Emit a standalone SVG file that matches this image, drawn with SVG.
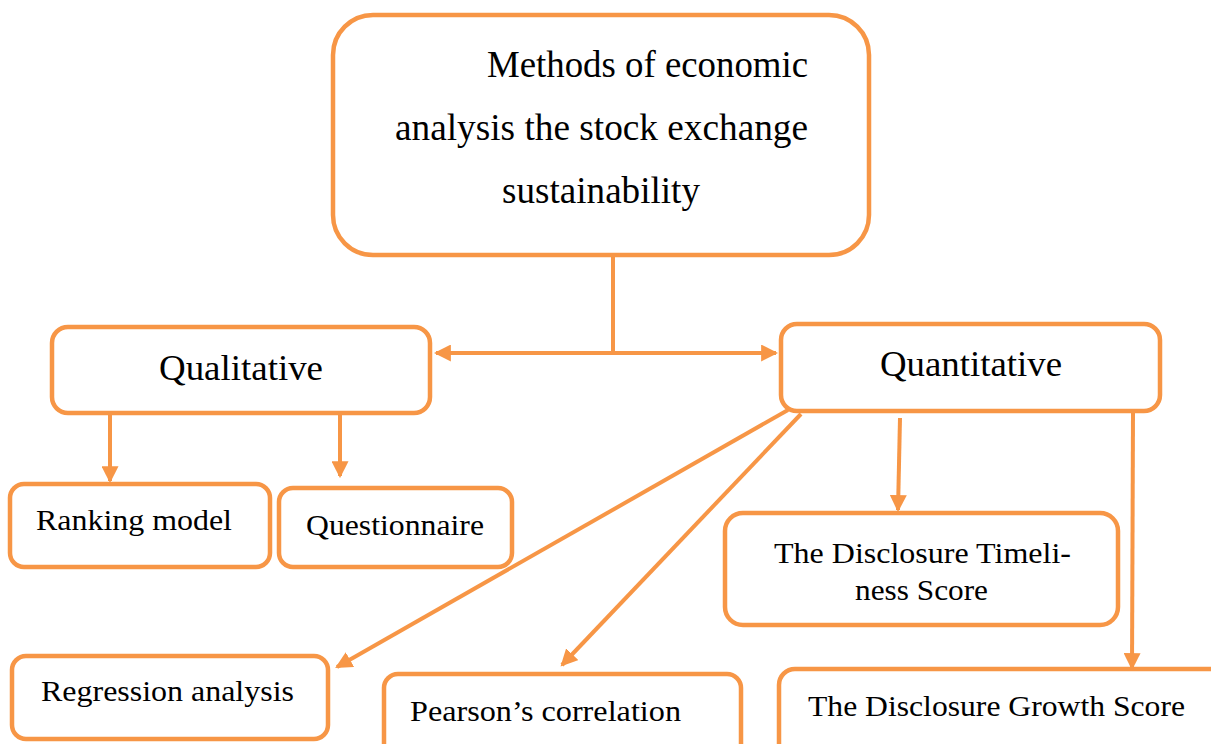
<svg xmlns="http://www.w3.org/2000/svg" width="1211" height="744" viewBox="0 0 1211 744">
<style>
.box{fill:#fff;stroke:#F79646;stroke-width:4.5}
.t{font-family:"Liberation Serif","Times New Roman",serif;fill:#000}
.c{fill:none;stroke:#F79646;stroke-width:4}
</style>
<defs>
<marker id="ah" viewBox="0 0 16 16" refX="14" refY="8" markerWidth="17" markerHeight="17" markerUnits="userSpaceOnUse" orient="auto-start-reverse">
<path d="M0,0 L16,8 L0,16 Z" fill="#F79646"/>
</marker>
</defs>
<rect width="1211" height="744" fill="#fff"/>
<g id="connectors">
<line class="c" x1="613" y1="257" x2="613" y2="353"/>
<line class="c" x1="436" y1="353" x2="776" y2="353" marker-start="url(#ah)" marker-end="url(#ah)"/>
<line class="c" x1="110" y1="415" x2="110" y2="481" marker-end="url(#ah)"/>
<line class="c" x1="340" y1="415" x2="340" y2="476" marker-end="url(#ah)"/>
<line class="c" x1="900" y1="418" x2="898" y2="510" marker-end="url(#ah)"/>
<line class="c" x1="1133" y1="413" x2="1132" y2="668" marker-end="url(#ah)"/>
<line class="c" x1="788" y1="410" x2="337" y2="667" marker-end="url(#ah)"/>
<line class="c" x1="801" y1="414" x2="562" y2="665" marker-end="url(#ah)"/>
</g>
<g id="top">
<rect class="box" x="333" y="15" width="536" height="240" rx="40"/>
<text class="t" font-size="37" x="487" y="77" textLength="321" lengthAdjust="spacingAndGlyphs">Methods of economic</text>
<text class="t" font-size="37" x="395" y="140" textLength="413" lengthAdjust="spacingAndGlyphs">analysis the stock exchange</text>
<text class="t" font-size="37" x="502" y="203" textLength="198" lengthAdjust="spacingAndGlyphs">sustainability</text>
</g>
<g id="qualitative">
<rect class="box" x="52" y="327" width="378" height="86" rx="16"/>
<text class="t" font-size="36.5" x="159" y="380" textLength="164" lengthAdjust="spacingAndGlyphs">Qualitative</text>
</g>
<g id="quantitative">
<rect class="box" x="781" y="324" width="379" height="87" rx="16"/>
<text class="t" font-size="36.5" x="880" y="376" textLength="182" lengthAdjust="spacingAndGlyphs">Quantitative</text>
</g>
<g id="ranking">
<rect class="box" x="10" y="484" width="260" height="83" rx="14"/>
<text class="t" font-size="30" x="36" y="530" textLength="196" lengthAdjust="spacingAndGlyphs">Ranking model</text>
</g>
<g id="questionnaire">
<rect class="box" x="279" y="488" width="233" height="79" rx="14"/>
<text class="t" font-size="29" x="306" y="535" textLength="178" lengthAdjust="spacingAndGlyphs">Questionnaire</text>
</g>
<g id="timeliness">
<rect class="box" x="725" y="513" width="393" height="112" rx="18"/>
<text class="t" font-size="29" x="774" y="563" textLength="297" lengthAdjust="spacingAndGlyphs">The Disclosure Timeli-</text>
<text class="t" font-size="29" x="855" y="600" textLength="133" lengthAdjust="spacingAndGlyphs">ness Score</text>
</g>
<g id="growth">
<rect class="box" x="779" y="669" width="450" height="90" rx="16"/>
<text class="t" font-size="29" x="808" y="716" textLength="377" lengthAdjust="spacingAndGlyphs">The Disclosure Growth Score</text>
</g>
<g id="regression">
<rect class="box" x="12" y="656" width="316" height="83" rx="14"/>
<text class="t" font-size="29" x="41" y="701" textLength="253" lengthAdjust="spacingAndGlyphs">Regression analysis</text>
</g>
<g id="pearson">
<rect class="box" x="384" y="674" width="357" height="85" rx="14"/>
<text class="t" font-size="29" x="410" y="721" textLength="271" lengthAdjust="spacingAndGlyphs">Pearson’s correlation</text>
</g>
</svg>
